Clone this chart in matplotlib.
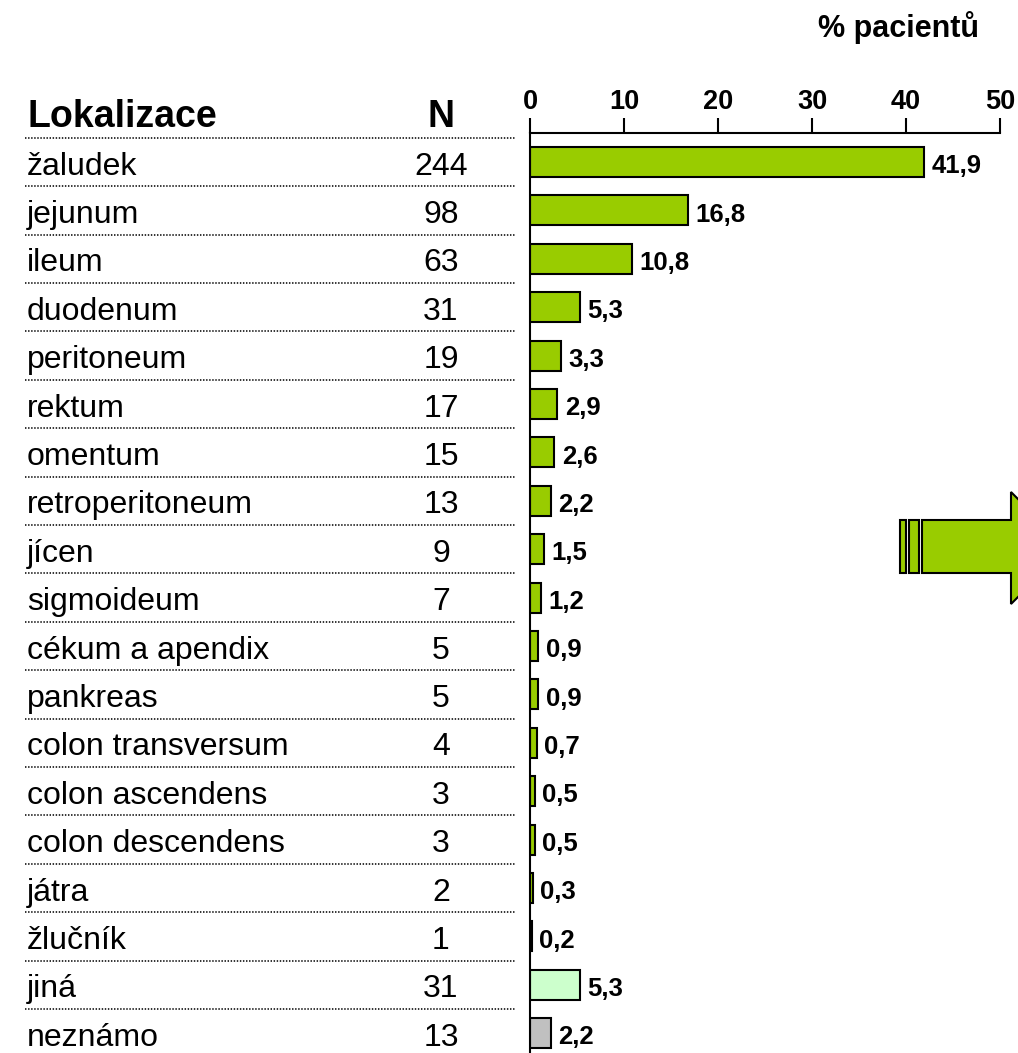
import matplotlib
matplotlib.use("Agg")
import matplotlib.pyplot as plt
import matplotlib.transforms as mtrans
from matplotlib.patches import Polygon, Rectangle

plt.rcParams['font.family'] = ['Liberation Sans', 'DejaVu Sans']

locations = ["žaludek", "jejunum", "ileum", "duodenum", "peritoneum", "rektum",
             "omentum", "retroperitoneum", "jícen", "sigmoideum", "cékum a apendix",
             "pankreas", "colon transversum", "colon ascendens", "colon descendens",
             "játra", "žlučník", "jiná", "neznámo"]
counts = [244, 98, 63, 31, 19, 17, 15, 13, 9, 7, 5, 5, 4, 3, 3, 2, 1, 31, 13]
percent = [41.9, 16.8, 10.8, 5.3, 3.3, 2.9, 2.6, 2.2, 1.5, 1.2, 0.9, 0.9, 0.7,
           0.5, 0.5, 0.3, 0.2, 5.3, 2.2]
bar_colors = ["#99CC00"] * 17 + ["#CCFFCC", "#C0C0C0"]
xticks = [0, 10, 20, 30, 40, 50]

W, H = 1018, 1053
fig = plt.figure(figsize=(W / 100, H / 100), dpi=100)

ax_left, ax_right = 530 / W, 1000 / W
ax = fig.add_axes([ax_left, 0.0, ax_right - ax_left, 1 - 133 / H])

n = len(locations)
ys = list(range(n))
ax.barh(ys, percent, height=0.62, color=bar_colors, edgecolor="black", linewidth=1.5, zorder=3)
ax.set_xlim(0, 50)
row0, row_px = 162, 48.4
ax.set_ylim((1053 - row0) / row_px, (133 - row0) / row_px)

ax.xaxis.tick_top()
ax.set_xticks(xticks)
ax.set_xticklabels([str(t) for t in xticks], fontsize=19.5, fontweight="bold")
ax.tick_params(axis="x", direction="out", length=11, width=1.5, pad=2)
ax.set_yticks([])
for s in ["right", "bottom"]:
    ax.spines[s].set_visible(False)
ax.spines["top"].set_linewidth(1.5)
ax.spines["left"].set_linewidth(1.5)
ax.spines["left"].set_zorder(4)

for y, v in zip(ys, percent):
    ax.text(v + 0.8, y + 0.23, f"{v:.1f}".replace(".", ","), fontsize=18.5,
            fontweight="bold", va="baseline", ha="left", clip_on=False)

# left table
trans = mtrans.blended_transform_factory(fig.transFigure, ax.transData)
for y, name, c in zip(ys, locations, counts):
    ax.text(27 / W, y + 0.26, name, transform=trans, fontsize=23, va="baseline", ha="left", clip_on=False)
    ax.text(441 / W, y + 0.26, str(c), transform=trans, fontsize=23, va="baseline", ha="center", clip_on=False)
ax.text(27 / W, -0.73, "Lokalizace", transform=trans, fontsize=27, fontweight="bold",
        va="baseline", ha="left", clip_on=False)
ax.text(441 / W, -0.73, "N", transform=trans, fontsize=27, fontweight="bold",
        va="baseline", ha="center", clip_on=False)

for i in range(n):
    ax.plot([25 / W, 515 / W], [i - 0.5, i - 0.5], transform=trans, color="#222222",
            linewidth=1.3, linestyle=(0, (0.8, 0.9)), clip_on=False)

fig.text(898 / W, 1 - 37 / H, "% pacientů", fontsize=22, fontweight="bold", ha="center", va="baseline")

# decorative arrow (figure pixels)
def P(x, y):
    return (x / W, 1 - y / H)

ec = "black"
for x0, x1 in [(900, 906), (909, 919)]:
    fig.patches.append(Rectangle(P(x0, 573), (x1 - x0) / W, (573 - 520) / H,
                                 transform=fig.transFigure, facecolor="#99CC00",
                                 edgecolor=ec, linewidth=1.5))
arrow = [P(922, 520), P(1011, 520), P(1011, 492), P(1067, 548), P(1011, 604),
         P(1011, 573), P(922, 573)]
fig.patches.append(Polygon(arrow, closed=True, transform=fig.transFigure,
                           facecolor="#99CC00", edgecolor=ec, linewidth=1.5))

fig.savefig("out.png", dpi=100)
